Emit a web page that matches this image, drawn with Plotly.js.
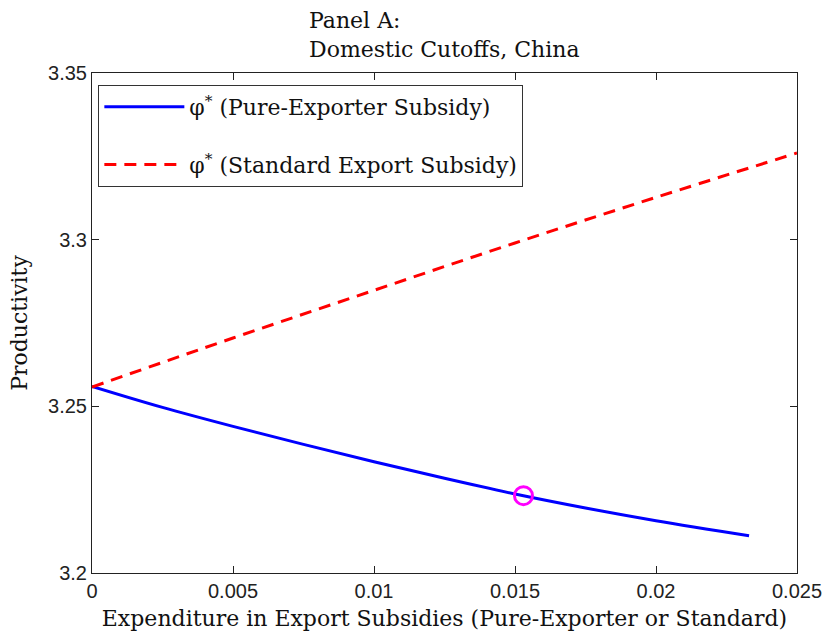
<!DOCTYPE html>
<html>
<head>
<meta charset="utf-8">
<script src="https://cdn.plot.ly/plotly-3.0.1.min.js"></script>
<style>html,body{margin:0;padding:0;background:#fff;}#chart{width:824px;height:640px;}</style>
</head>
<body>
<div id="chart"></div>
<script>
// Data
const pureX = [0, 0.0025, 0.005, 0.0075, 0.01, 0.0125, 0.015, 0.0175, 0.02, 0.0233];
const pureY = [3.2560, 3.2497, 3.2440, 3.2386, 3.2334, 3.2284, 3.2237, 3.2195, 3.2157, 3.2112];
const stdX = [0, 0.005, 0.01, 0.015, 0.02, 0.025];
const stdY = [3.2558, 3.2705, 3.2848, 3.2990, 3.3127, 3.3260];
const markX = [0.0153];
const markY = [3.2232];
const xTicks = [0, 0.005, 0.01, 0.015, 0.02, 0.025];
const yTicks = [3.2, 3.25, 3.3, 3.35];
const names = ['φ<sup>*</sup> (Pure-Exporter Subsidy)', 'φ<sup>*</sup> (Standard Export Subsidy)'];

const serif = 'DejaVu Serif, serif';
const sans = 'Liberation Sans, Arial, sans-serif';

const traces = [
  {x: pureX, y: pureY, type: 'scatter', mode: 'lines', name: names[0], legendgroup: 'a',
   line: {color: '#0000ff', width: 3, shape: 'spline'}},
  {x: stdX, y: stdY, type: 'scatter', mode: 'lines', name: names[1], legendgroup: 'b',
   line: {color: '#ff0000', width: 3, dash: '12px,8px', shape: 'spline'}},
  {x: markX, y: markY, type: 'scatter', mode: 'markers', showlegend: false,
   marker: {symbol: 'circle-open', size: 18, color: '#ff00ff', line: {width: 3, color: '#ff00ff'}}}
];

const axisCommon = {
  showline: true, linecolor: '#222', linewidth: 1, mirror: 'ticks',
  ticks: 'inside', ticklen: 7, tickcolor: '#222', tickwidth: 1,
  showgrid: false, zeroline: false,
  tickfont: {family: sans, size: 20, color: '#222'}
};

const layout = {
  width: 824, height: 640,
  margin: {l: 92, r: 27, t: 73, b: 67},
  paper_bgcolor: '#fff', plot_bgcolor: '#fff',
  showlegend: true,
  xaxis: Object.assign({}, axisCommon, {
    range: [0, 0.025], tickvals: xTicks, ticktext: xTicks.map(String),
    title: {text: 'Expenditure in Export Subsidies (Pure-Exporter or Standard)',
            font: {family: serif, size: 22, color: '#111'}, standoff: 9}
  }),
  yaxis: Object.assign({}, axisCommon, {
    range: [3.2, 3.35], tickvals: yTicks, ticktext: yTicks.map(String),
    title: {text: 'Productivity', font: {family: serif, size: 22, color: '#111'}, standoff: 14}
  }),
  legend: {
    x: 0.009, y: 0.976, xanchor: 'left', yanchor: 'top',
    bordercolor: '#333', borderwidth: 1, bgcolor: '#fff',
    font: {family: serif, size: 22, color: '#111'},
    itemwidth: 80, traceorder: 'grouped', tracegroupgap: 26
  },
  annotations: [{
    xref: 'paper', yref: 'paper', x: 0.5, y: 1, xanchor: 'center', yanchor: 'bottom',
    yshift: 9, align: 'left', showarrow: false,
    text: 'Panel A:<br>Domestic Cutoffs, China',
    font: {family: serif, size: 22, color: '#111'}
  }]
};

Plotly.newPlot('chart', traces, layout, {displayModeBar: false, staticPlot: true});
</script>
</body>
</html>
